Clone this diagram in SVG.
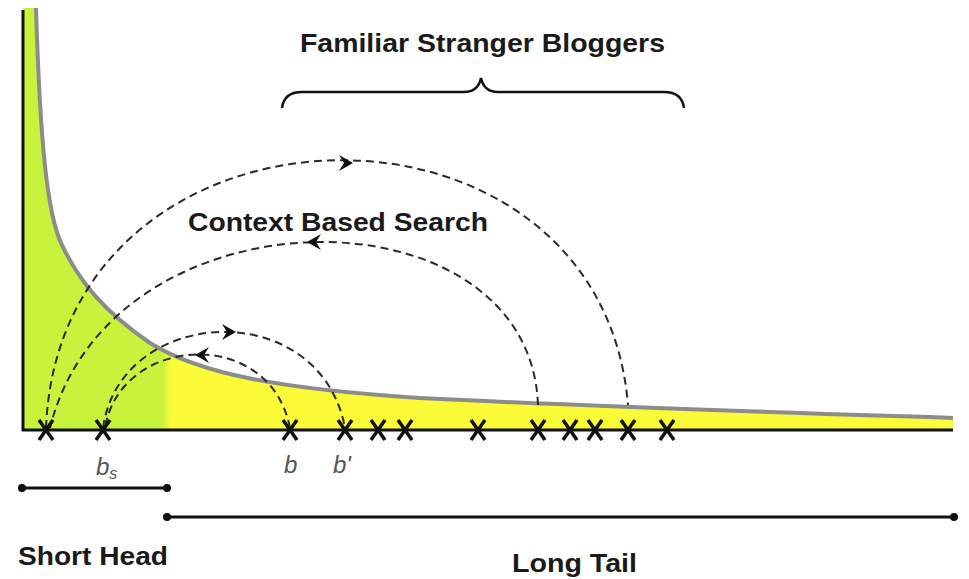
<svg xmlns="http://www.w3.org/2000/svg" width="969" height="579" viewBox="0 0 969 579">
  <defs>
    <linearGradient id="fillGrad" gradientUnits="userSpaceOnUse" x1="0" y1="0" x2="969" y2="0">
      <stop offset="0" stop-color="#c9f23d"/>
      <stop offset="0.168" stop-color="#c9f23d"/>
      <stop offset="0.176" stop-color="#fbfb38"/>
      <stop offset="1" stop-color="#fbfb38"/>
    </linearGradient>
    <symbol id="cross" overflow="visible">
      <path d="M-7,-10 L7,10 M7,-10 L-7,10" stroke="#111" stroke-width="3.5" fill="none"/>
    </symbol>
  </defs>
  <style>
    .lbl { font-family: "Liberation Sans", Arial, sans-serif; font-weight: bold; font-size: 25px; fill: #1a1a1a; }
    .var { font-family: "Liberation Sans", Arial, sans-serif; font-style: italic; font-size: 24px; fill: #555; }
    .arc { fill: none; stroke: #2a2a2a; stroke-width: 2; stroke-dasharray: 8 5; }
    .arrow { fill: #111; }
    .rng { stroke: #111; stroke-width: 3; fill: none; }
    .dot { fill: #111; }
  </style>

  <rect width="969" height="579" fill="#ffffff"/>

  <g id="distribution">
    <path d="M23,8 L36,8 C40,140 47,215 62,245 C80,283 105,312 150,343 C200,374 280,389 420,398 C600,407 800,413 953,418 L953,430 L23,430 Z" fill="url(#fillGrad)"/>
    <path d="M36,8 C40,140 47,215 62,245 C80,283 105,312 150,343 C200,374 280,389 420,398 C600,407 800,413 953,418" fill="none" stroke="#8c8c8c" stroke-width="4"/>
    <line x1="23" y1="10" x2="23" y2="431" stroke="#111" stroke-width="3"/>
    <line x1="22" y1="430" x2="953" y2="430" stroke="#111" stroke-width="3"/>
  </g>

  <g id="connectors">
    <path class="arc" d="M46,428 C60,80 600,70 628,405"/>
    <path class="arc" d="M538,405 C530,184 110,184 50,428"/>
    <path class="arc" d="M103,428 C120,305 320,295 345,428"/>
    <path class="arc" d="M290,428 C270,325 120,335 105,428"/>
    <path class="arrow" d="M353,163 L339,155 L344,163 L339,171 Z"/>
    <path class="arrow" d="M307,242 L321,234 L316,242 L321,250 Z"/>
    <path class="arrow" d="M236,332 L222,324 L227,332 L222,340 Z"/>
    <path class="arrow" d="M195,355 L209,347 L204,355 L209,363 Z"/>
  </g>

  <g id="bloggers">
    <use href="#cross" x="46" y="430"/>
    <use href="#cross" x="103" y="430"/>
    <use href="#cross" x="290" y="430"/>
    <use href="#cross" x="345" y="430"/>
    <use href="#cross" x="378" y="430"/>
    <use href="#cross" x="405" y="430"/>
    <use href="#cross" x="478" y="430"/>
    <use href="#cross" x="538" y="430"/>
    <use href="#cross" x="570" y="430"/>
    <use href="#cross" x="595" y="430"/>
    <use href="#cross" x="628" y="430"/>
    <use href="#cross" x="667" y="430"/>
  </g>

  <g id="var-labels">
    <text class="var" x="96" y="475">b<tspan font-size="16" dy="4">s</tspan></text>
    <text class="var" x="284" y="473">b</text>
    <text class="var" x="333" y="473">b'</text>
  </g>

  <g id="familiar-stranger">
    <text class="lbl" x="300" y="52" textLength="365" lengthAdjust="spacingAndGlyphs">Familiar Stranger Bloggers</text>
    <path d="M282,108 Q284,92 302,92 L464,92 Q478,92 481,78 Q484,92 498,92 L664,92 Q682,92 684,108" fill="none" stroke="#111" stroke-width="2.5"/>
  </g>

  <g id="context-search">
    <text class="lbl" x="188" y="231" textLength="300" lengthAdjust="spacingAndGlyphs">Context Based Search</text>
  </g>

  <g id="short-head">
    <line class="rng" x1="22" y1="488" x2="167" y2="488"/>
    <circle class="dot" cx="22" cy="488" r="4"/>
    <circle class="dot" cx="167" cy="488" r="4"/>
    <text class="lbl" x="18" y="565" textLength="150" lengthAdjust="spacingAndGlyphs">Short Head</text>
  </g>

  <g id="long-tail">
    <line class="rng" x1="167" y1="517" x2="954" y2="517"/>
    <circle class="dot" cx="167" cy="517" r="4"/>
    <circle class="dot" cx="954" cy="517" r="4"/>
    <text class="lbl" x="512" y="572" textLength="125" lengthAdjust="spacingAndGlyphs">Long Tail</text>
  </g>
</svg>
